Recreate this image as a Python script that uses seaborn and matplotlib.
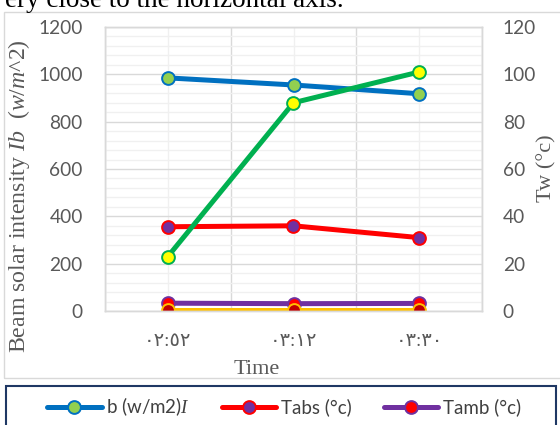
import matplotlib
matplotlib.use("Agg")
import matplotlib.pyplot as plt
import seaborn as sns
from matplotlib.patches import Rectangle
from matplotlib.lines import Line2D
from matplotlib.ticker import MultipleLocator, FixedLocator
from matplotlib.transforms import Bbox, TransformedBbox

# ---- data ----
times = ["٠٢:٥٢", "٠٣:١٢", "٠٣:٣٠"]
ib = [985, 955, 918]          # Beam solar intensity (left axis)
tamb = [33, 31, 32]           # Tamb (left axis)
base = [5, 5, 5]              # series near zero (left axis)
tabs = [35.6, 36.0, 31.0]     # Tabs (right axis)
tw = [23, 88, 101]            # Tw (right axis)
legend_labels = ["b (w/m2)$\\mathit{I}$", "Tabs (°c)", "Tamb (°c)"]

sns.set_theme(style="white")
plt.rcParams['font.family'] = ['Lato', 'DejaVu Sans']
plt.rcParams['mathtext.fontset'] = 'custom'
plt.rcParams['mathtext.rm'] = 'Liberation Serif'
plt.rcParams['mathtext.it'] = 'Liberation Serif:italic'

W, H = 560, 425
fig = plt.figure(figsize=(5.6, 4.25), dpi=100)
fig.patch.set_facecolor('white')


def fx(p):
    return p / W


def fy(p):
    return 1 - p / H


ax = fig.add_axes([fx(105), fy(311), fx(482) - fx(105), fy(27) - fy(311)])
ax2 = ax.twinx()

LW = 3.6
MS = 9.2
MEW = 1.4

sns.lineplot(x=times, y=ib, ax=ax, sort=False, color='#0070C0', lw=LW,
             marker='o', ms=MS, mfc='#92D050', mec='#0070C0', mew=MEW)
sns.lineplot(x=times, y=tamb, ax=ax, sort=False, color='#7030A0', lw=LW,
             marker='o', ms=MS, mfc='#FF0000', mec='#7030A0', mew=MEW)
sns.lineplot(x=times, y=base, ax=ax, sort=False, color='#FFC000', lw=LW,
             marker='o', ms=MS, mfc='#C00000', mec='#FFC000', mew=MEW)
sns.lineplot(x=times, y=tabs, ax=ax2, sort=False, color='#FF0000', lw=LW,
             marker='o', ms=MS, mfc='#7030A0', mec='#FF0000', mew=MEW)
sns.lineplot(x=times, y=tw, ax=ax2, sort=False, color='#00B050', lw=LW,
             marker='o', ms=MS, mfc='#FFFF00', mec='#00B050', mew=MEW)

TICKC = '#595959'
ax.set_xlim(-0.5, 2.5)
ax.set_xticks([0, 1, 2])
ax.set_xticklabels(times, family=['Liberation Serif', 'DejaVu Sans'],
                   fontsize=14, color=TICKC)
ax.xaxis.set_minor_locator(FixedLocator([-0.5, 0.5, 1.5, 2.5]))
ax.set_ylim(0, 1200)
ax.yaxis.set_major_locator(MultipleLocator(200))
ax.yaxis.set_minor_locator(MultipleLocator(40))
ax.grid(True, which='major', axis='x', color='#F0F0F0', lw=1)
ax.grid(True, which='minor', axis='x', color='#D9D9D9', lw=1)
ax.grid(True, which='major', axis='y', color='#D9D9D9', lw=1)
ax.grid(True, which='minor', axis='y', color='#F0F0F0', lw=1)
ax.set_axisbelow(True)
ax.tick_params(which='both', length=0)
ax.tick_params(axis='y', pad=16, labelsize=13.8, labelcolor=TICKC)
ax.tick_params(axis='x', pad=16)
ax.set_xlabel('')
ax.set_ylabel('')

ax2.set_ylim(0, 120)
ax2.yaxis.set_major_locator(MultipleLocator(20))
ax2.grid(False)
ax2.tick_params(which='both', length=0)
ax2.tick_params(axis='y', pad=15, labelsize=13.8, labelcolor=TICKC)
ax2.set_ylabel('')
for a in (ax, ax2):
    for s in a.spines.values():
        s.set_color('#D9D9D9')
        s.set_linewidth(1)

# outer chart border
fig.patches.append(Rectangle((fx(4), fy(378)), fx(570) - fx(4), fy(12) - fy(378),
                             transform=fig.transFigure, fill=False,
                             edgecolor='#D9D9D9', lw=1))

# document text cut at top
fig.text(fx(5), fy(7), "ery close to the horizontal axis.", family='Liberation Serif',
         fontsize=19.5, va='baseline', ha='left', color='black')

# axis titles
yl = fig.text(fx(19), fy(353), "Beam solar intensity $\\mathit{Ib}$  $\\mathit{(w/m}$^2)",
              rotation=90, ha='center', va='bottom', fontsize=17.2,
              family='Liberation Serif', color=TICKC)
yl.set_clip_box(TransformedBbox(Bbox([[0, fy(378)], [1, fy(12)]]), fig.transFigure))
yl.set_clip_on(True)
fig.text(fx(547), fy(168), "Tw (°c)", rotation=90, ha='center', va='center',
         fontsize=16, family='Liberation Serif', color=TICKC)
fig.text(fx(257), fy(369), "Time", ha='center', va='center',
         fontsize=16, family='Liberation Serif', color=TICKC)

# legend box
fig.patches.append(Rectangle((fx(6), fy(440)), fx(556) - fx(6), fy(386) - fy(440),
                             transform=fig.transFigure, facecolor='white',
                             edgecolor='#1F3864', lw=1.5))
handles = [
    Line2D([], [], color='#0070C0', lw=LW, marker='o', ms=MS, mfc='#92D050', mec='#0070C0', mew=MEW),
    Line2D([], [], color='#FF0000', lw=LW, marker='o', ms=MS, mfc='#7030A0', mec='#FF0000', mew=MEW),
    Line2D([], [], color='#7030A0', lw=LW, marker='o', ms=MS, mfc='#FF0000', mec='#7030A0', mew=MEW),
]
fig.legend(handles, legend_labels, loc='center', bbox_to_anchor=(fx(284), fy(407)),
           ncol=3, frameon=False, fontsize=13.5, handlelength=2.9, columnspacing=1.7,
           handletextpad=0.25, labelcolor='#404040')

fig.savefig("out.png", dpi=100)
